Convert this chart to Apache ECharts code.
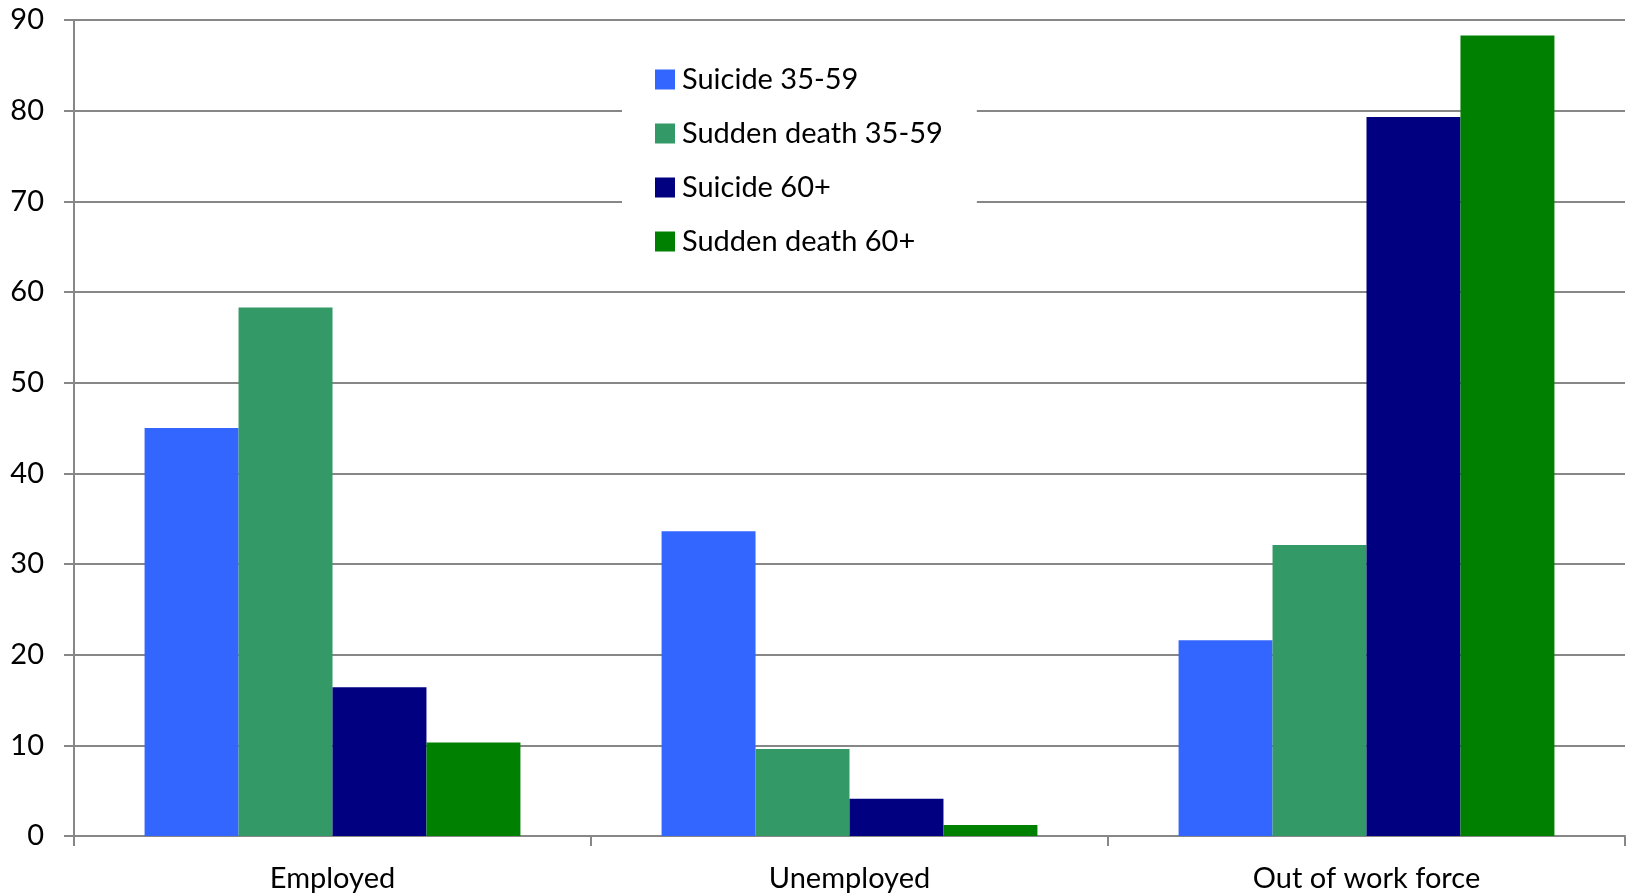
<!DOCTYPE html>
<html>
<head>
<meta charset="utf-8">
<title>Suicide and sudden death by employment status</title>
<script src="https://cdn.jsdelivr.net/npm/echarts@6/dist/echarts.min.js"></script>
<style>
  html, body { margin: 0; padding: 0; background: #ffffff; }
  #chart { width: 1630px; height: 895px; }
</style>
</head>
<body>
<div id="chart"></div>
<script>
// Employment status groups on the x axis
const categories = ['Employed', 'Unemployed', 'Out of work force'];

// Values per series, one per employment status
const suicide3559 = [45.0, 33.6, 21.6];
const suddenDeath3559 = [58.3, 9.6, 32.1];
const suicide60 = [16.4, 4.1, 79.3];
const suddenDeath60 = [10.3, 1.2, 88.3];

// Value axis range and step
const yMin = 0;
const yMax = 90;
const yStep = 10;

const seriesNames = ['Suicide 35-59', 'Sudden death 35-59', 'Suicide 60+', 'Sudden death 60+'];
const seriesColors = ['#3366FF', '#339966', '#000080', '#008000'];
const seriesValues = [suicide3559, suddenDeath3559, suicide60, suddenDeath60];

const axisGray = '#878787';
const fontFamily = 'Lato, "Open Sans", sans-serif';

const chart = echarts.init(document.getElementById('chart'), null, { renderer: 'canvas' });

chart.setOption({
  animation: false,
  backgroundColor: '#ffffff',
  textStyle: { fontFamily: fontFamily },
  grid: { left: 74, right: 5, top: 20, bottom: 59, containLabel: false },
  legend: {
    orient: 'vertical',
    left: 622,
    top: 35,
    padding: [30, 34, 30, 33],
    backgroundColor: '#ffffff',
    icon: 'rect',
    itemWidth: 20,
    itemHeight: 20,
    itemGap: 25,
    textStyle: {
      fontFamily: fontFamily,
      fontSize: 29,
      color: '#000000',
      padding: [0, 0, 0, 2]
    },
    data: seriesNames
  },
  xAxis: {
    type: 'category',
    data: categories,
    axisLine: { show: true, lineStyle: { color: axisGray, width: 2 } },
    axisTick: { show: true, length: 10, alignWithLabel: false, lineStyle: { color: axisGray, width: 2 } },
    axisLabel: { color: '#000000', fontSize: 29, fontFamily: fontFamily, margin: 28 },
    splitLine: { show: false }
  },
  yAxis: {
    type: 'value',
    min: yMin,
    max: yMax,
    interval: yStep,
    axisLine: { show: true, lineStyle: { color: axisGray, width: 2 } },
    axisTick: { show: true, length: 10, lineStyle: { color: axisGray, width: 2 } },
    axisLabel: { color: '#000000', fontSize: 29, fontFamily: fontFamily, margin: 30 },
    splitLine: { show: true, lineStyle: { color: axisGray, width: 2 } }
  },
  series: seriesNames.map((name, i) => ({
    name: name,
    type: 'bar',
    data: seriesValues[i],
    itemStyle: { color: seriesColors[i] },
    barGap: '0%',
    barCategoryGap: '27.3%'
  }))
});
</script>
</body>
</html>
